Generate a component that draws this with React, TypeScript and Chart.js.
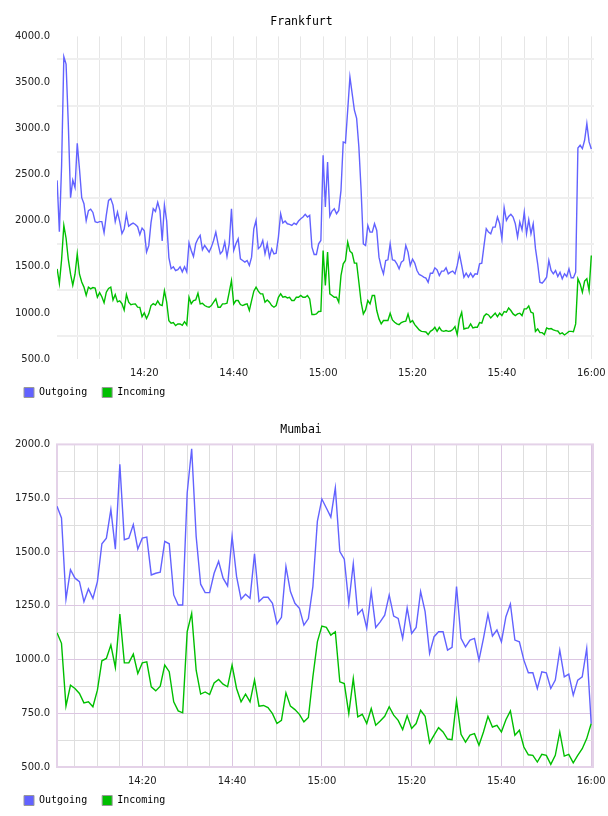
import React, { useEffect, useRef } from "react";
import { Chart, registerables } from "chart.js";

Chart.register(...registerables);

// ---- Data (minutes after 14:00) ----
const FRANKFURT_START = 0.5;
const FRANKFURT_STEP = 0.5;
const frankfurtOutgoing = [
  2438, 1880, 2600, 3780, 3700, 3050, 2250, 2440, 2360, 2840,
  2560, 2250, 2185, 2000, 2110, 2125, 2090, 1990, 1980, 1990,
  1990, 1870, 2060, 2220, 2240, 2170, 1990, 2095, 1990, 1860,
  1910, 2070, 1940, 1960, 1975, 1960, 1935, 1850, 1920, 1890,
  1660, 1730, 1980, 2130, 2100, 2200, 2110, 1780, 2170, 2000,
  1600, 1480, 1500, 1460, 1470, 1500, 1445, 1500, 1445, 1760,
  1678, 1612, 1750, 1804, 1841, 1685, 1732, 1696, 1660, 1714,
  1786, 1877, 1750, 1641, 1670, 1768, 1612, 1750, 2130, 1678,
  1750, 1804, 1587, 1569, 1551, 1569, 1515, 1605, 1913, 2004,
  1696, 1721, 1786, 1641, 1750, 1605, 1696, 1641, 1648, 1823,
  2076, 1975, 1997, 1967, 1960, 1949, 1975, 1960, 1997, 2022,
  2040, 2069, 2040, 2058, 1714, 1634, 1634, 1750, 1786, 2710,
  2150, 2638, 2050, 2105, 2130, 2076, 2112, 2330, 2855, 2845,
  3199, 3560, 3380, 3199, 3110, 2800, 2330, 1750, 1732, 1949,
  1877, 1877, 1967, 1895, 1605, 1497, 1424, 1569, 1576, 1750,
  1576, 1569, 1533, 1478, 1551, 1569, 1732, 1660, 1515, 1584,
  1540, 1460, 1417, 1406, 1388, 1377, 1333, 1431, 1431, 1489,
  1467, 1406, 1453, 1453, 1489, 1424, 1442, 1453, 1424, 1515,
  1641, 1515, 1388, 1431, 1388, 1431, 1388, 1424, 1420, 1533,
  1540, 1732, 1913, 1877, 1859, 1931, 1931, 2040, 1967, 1804,
  2141, 2004, 2047, 2069, 2040, 1967, 1823, 1986, 1902, 2094,
  1859, 2011, 1859, 1967, 1700, 1533, 1333, 1322, 1352, 1388,
  1569, 1460, 1424, 1460, 1395, 1442, 1370, 1424, 1395, 1478,
  1381, 1381, 1442, 2790, 2819, 2783, 2873, 3054, 2855, 2779,
];
const frankfurtIncoming = [
  1478, 1320, 1580, 1950, 1810, 1580, 1420, 1300, 1420, 1640,
  1420, 1335, 1280, 1190, 1280, 1261, 1275, 1270, 1170, 1220,
  1175, 1110, 1225, 1265, 1279, 1140, 1200, 1120, 1130, 1100,
  1030, 1200, 1116, 1090, 1095, 1098, 1062, 1060, 960, 1000,
  940, 990, 1080, 1100, 1085, 1130, 1090, 1080, 1240, 1120,
  915, 888, 895, 862, 880, 881, 865, 905, 870, 1170,
  1100, 1134, 1141, 1214, 1098, 1105, 1080, 1069, 1062, 1080,
  1116, 1152, 1062, 1062, 1098, 1098, 1105, 1225, 1350, 1098,
  1134, 1134, 1091, 1080, 1091, 1098, 1026, 1134, 1236, 1279,
  1236, 1207, 1207, 1116, 1141, 1116, 1080, 1062, 1080, 1170,
  1207, 1170, 1178, 1163, 1170, 1134, 1134, 1170, 1170, 1189,
  1170, 1170, 1189, 1152, 982, 982, 989, 1015, 1018, 1678,
  1297, 1660, 1207, 1189, 1170, 1170, 1116, 1406, 1533, 1569,
  1768, 1670, 1648, 1540, 1540, 1333, 1116, 989, 1033, 1134,
  1098, 1189, 1189, 1026, 935, 881, 917, 917, 917, 997,
  924, 899, 881, 873, 895, 906, 910, 989, 899, 917,
  873, 844, 815, 800, 797, 793, 765, 800, 815, 844,
  800, 844, 808, 800, 808, 800, 804, 819, 852, 765,
  935, 1007, 826, 834, 837, 881, 837, 844, 844, 895,
  888, 964, 989, 978, 946, 971, 997, 960, 997, 971,
  1015, 1007, 1054, 1026, 989, 971, 989, 997, 971, 1044,
  1044, 1076, 1007, 997, 800, 826, 786, 786, 765, 837,
  826, 830, 815, 808, 804, 772, 783, 761, 779, 800,
  800, 797, 881, 1370, 1315, 1225, 1345, 1370, 1243, 1623,
];

const MUMBAI_START = 1;
const MUMBAI_STEP = 1;
const mumbaiOutgoing = [
  1712, 1658, 1280, 1417, 1378, 1362, 1269, 1328, 1284, 1362,
  1538, 1564, 1697, 1513, 1907, 1557, 1564, 1627, 1513, 1564,
  1569, 1393, 1401, 1406, 1549, 1538, 1300, 1253, 1253, 1774,
  1980, 1572, 1350, 1311, 1311, 1401, 1456, 1378, 1342, 1572,
  1386, 1280, 1303, 1284, 1491, 1269, 1289, 1289, 1261, 1165,
  1196, 1432, 1316, 1261, 1238, 1160, 1190, 1339, 1642, 1746,
  1704, 1662, 1798, 1502, 1466, 1261, 1445, 1210, 1233, 1145,
  1316, 1149, 1175, 1206, 1300, 1202, 1191, 1098, 1240, 1121,
  1149, 1316, 1222, 1028, 1106, 1129, 1129, 1043, 1056, 1339,
  1098, 1059, 1090, 1098, 997, 1098, 1211, 1109, 1137, 1082,
  1199, 1258, 1090, 1082, 997, 938, 938, 865, 943, 938,
  865, 904, 1043, 919, 932, 834, 904, 919, 1051, 702,
];
const mumbaiIncoming = [
  1124, 1075, 783, 880, 865, 842, 798, 803, 780, 857,
  994, 1005, 1067, 963, 1211, 984, 984, 1025, 935, 984,
  989, 873, 854, 876, 974, 943, 803, 761, 752, 1129,
  1214, 950, 839, 849, 837, 891, 907, 885, 873, 974,
  865, 803, 839, 803, 904, 783, 786, 776, 748, 702,
  717, 845, 783, 767, 745, 710, 730, 919, 1082, 1155,
  1149, 1113, 1129, 896, 888, 748, 911, 733, 745, 702,
  772, 694, 714, 736, 780, 741, 717, 674, 739, 679,
  702, 764, 736, 612, 648, 683, 663, 630, 627, 807,
  652, 616, 648, 655, 601, 663, 736, 686, 694, 663,
  720, 761, 648, 671, 593, 557, 554, 523, 559, 554,
  512, 554, 663, 551, 559, 519, 554, 585, 632, 702,
];

const seriesLabels = ["Outgoing", "Incoming"];
const timeTickMinutes = [20, 40, 60, 80, 100, 120];
const timeTickLabels = ["14:20", "14:40", "15:00", "15:20", "15:40", "16:00"];

// ---- Styles ----
const BLUE = "#6262ff";
const GREEN = "#00bf00";
const TICK_FONT = { family: "'DejaVu Sans', sans-serif", size: 10 };
const MONO = "'DejaVu Sans Mono', monospace";

const frameBorder = {
  id: "frameBorder",
  beforeDatasetsDraw(chart: any, _args: any, opts: any) {
    if (!opts || !opts.color) return;
    const { ctx, chartArea: a } = chart;
    ctx.save();
    ctx.strokeStyle = opts.color;
    ctx.lineWidth = opts.width || 1;
    ctx.strokeRect(a.left, a.top, a.right - a.left, a.bottom - a.top);
    ctx.restore();
  },
};

// Lifts the legend row closer to the axis labels (legend padding also sets item spacing).
const legendLift = {
  id: "legendLift",
  afterLayout(chart: any, _args: any, opts: any) {
    const lg = chart.legend;
    if (lg && opts && opts.dy) {
      lg.top -= opts.dy;
      lg.bottom -= opts.dy;
    }
  },
};

function timeLabel(v: number) {
  const idx = timeTickMinutes.indexOf(Math.round(v));
  return Math.abs(v - Math.round(v)) < 1e-6 && idx >= 0 ? timeTickLabels[idx] : "";
}

function noScalePadding(s: any) {
  s.paddingLeft = 0;
  s.paddingRight = 0;
  s.paddingTop = 0;
  s.paddingBottom = 0;
}

function buildConfig(p: any) {
  const pts = (arr: number[]) => arr.map((y, i) => ({ x: p.start + i * p.step, y }));
  return {
    type: "line",
    data: {
      datasets: [
        { label: seriesLabels[0], data: pts(p.outgoing), borderColor: BLUE, backgroundColor: BLUE, borderWidth: 1.4, pointRadius: 0, fill: false, tension: 0 },
        { label: seriesLabels[1], data: pts(p.incoming), borderColor: GREEN, backgroundColor: GREEN, borderWidth: 1.4, pointRadius: 0, fill: false, tension: 0 },
      ],
    },
    options: {
      animation: false,
      responsive: false,
      devicePixelRatio: 1,
      events: [],
      layout: { autoPadding: false, padding: { left: 9, right: p.padRight, top: 0, bottom: 0 } },
      plugins: {
        title: {
          display: true,
          text: p.title,
          color: "#000",
          font: { family: MONO, size: 11.5, weight: "normal" },
          padding: { top: 15, bottom: 7.6 },
        },
        legend: {
          display: true,
          position: "bottom",
          align: "start",
          labels: {
            boxWidth: 10,
            boxHeight: 10,
            padding: 15,
            color: "#000",
            font: { family: MONO, size: 10 },
            generateLabels: (chart: any) =>
              chart.data.datasets.map((ds: any, i: number) => ({
                text: ds.label,
                fillStyle: ds.borderColor,
                strokeStyle: "#999",
                lineWidth: 1,
                hidden: false,
                datasetIndex: i,
                fontColor: "#000",
              })),
          },
        },
        legendLift: { dy: 7.5 },
        tooltip: { enabled: false },
        frameBorder: p.frame,
      },
      scales: {
        x: {
          type: "linear",
          min: p.xMin,
          max: p.xMax,
          border: { display: false },
          grid: { color: p.xGrid, lineWidth: 1, drawTicks: false },
          ticks: {
            stepSize: 5,
            includeBounds: false,
            autoSkip: false,
            maxRotation: 0,
            padding: 8,
            color: "#222",
            font: TICK_FONT,
            callback: (v: number) => timeLabel(v),
          },
          afterFit: (s: any) => { s.height = 21; noScalePadding(s); },
        },
        y: {
          type: "linear",
          min: p.yMin,
          max: p.yMax,
          border: { display: false },
          grid: { color: p.yGrid, lineWidth: p.yGridWidth, drawTicks: false },
          ticks: {
            stepSize: p.yStep,
            autoSkip: false,
            padding: 7,
            color: "#222",
            font: TICK_FONT,
            callback: (v: number) => (v % p.yLabelEvery === 0 ? v.toFixed(1) : ""),
          },
          afterFit: (s: any) => { s.width = 48; noScalePadding(s); },
        },
      },
    },
    plugins: [frameBorder, legendLift],
  };
}

const PURPLE = "#dcc6e2";
const GREYLINE = "#dedede";

function frankfurtConfig() {
  return buildConfig({
    title: "Frankfurt",
    start: FRANKFURT_START,
    step: FRANKFURT_STEP,
    outgoing: frankfurtOutgoing,
    incoming: frankfurtIncoming,
    xMin: 0.47,
    xMax: 120.6,
    yMin: 500,
    yMax: 4000,
    yStep: 250,
    yLabelEvery: 500,
    padRight: 14,
    xGrid: "#e6e6e6",
    yGrid: (c: any) => (c.tick && c.tick.value % 500 === 0 ? "rgba(0,0,0,0)" : "#efefef"),
    yGridWidth: 2,
    frame: {},
  });
}

function mumbaiConfig() {
  return buildConfig({
    title: "Mumbai",
    start: MUMBAI_START,
    step: MUMBAI_STEP,
    outgoing: mumbaiOutgoing,
    incoming: mumbaiIncoming,
    xMin: 1.0,
    xMax: 120.4,
    yMin: 500,
    yMax: 2000,
    yStep: 125,
    yLabelEvery: 250,
    padRight: 15,
    xGrid: (c: any) => (c.tick && c.tick.value % 20 === 0 ? PURPLE : GREYLINE),
    yGrid: (c: any) => (c.tick && c.tick.value % 250 === 0 ? PURPLE : GREYLINE),
    yGridWidth: 1,
    frame: { color: "#e4d2e8", width: 2 },
  });
}

const CANVAS_H = 415;

function LineChart({ make }: { make: () => any }) {
  const ref = useRef<HTMLCanvasElement>(null);
  useEffect(() => {
    const chart = new Chart(ref.current as HTMLCanvasElement, make());
    return () => chart.destroy();
  }, [make]);
  return (
    <div style={{ position: "relative", width: 608, height: 408 }}>
      <canvas
        ref={ref}
        width={608}
        height={CANVAS_H}
        style={{ display: "block", position: "absolute", left: 0, top: 0 }}
      />
    </div>
  );
}

export default function App() {
  return (
    <div style={{ position: "absolute", left: 0, top: 0, width: 608, height: 816, background: "#fff" }}>
      <LineChart make={frankfurtConfig} />
      <LineChart make={mumbaiConfig} />
    </div>
  );
}
